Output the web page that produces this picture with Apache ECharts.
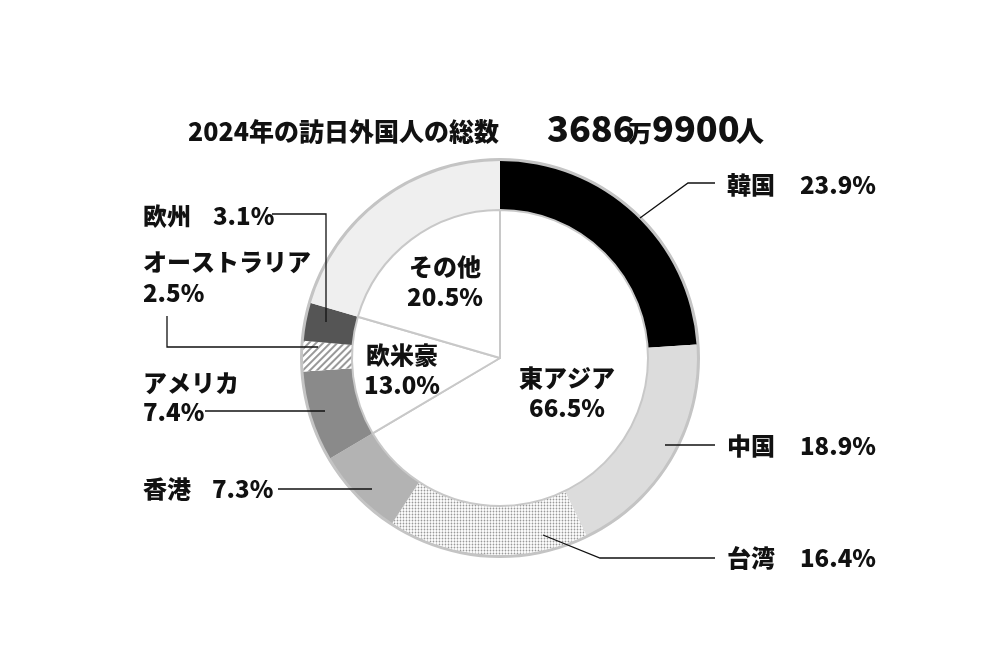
<!DOCTYPE html>
<html><head><meta charset="utf-8">
<script src="https://cdn.jsdelivr.net/npm/echarts@6/dist/echarts.min.js"></script>
<style>html,body{margin:0;background:#fff}#c{width:1008px;height:658px}</style>
</head><body><div id="c"></div>
<script>
const outerNames = ['韓国','中国','台湾','香港','アメリカ','オーストラリア','欧州','その他'];
const outerValues = [23.9,18.9,16.4,7.3,7.4,2.5,3.1,20.5];
const innerNames = ['東アジア','欧米豪','その他'];
const innerValues = [66.5,13.0,20.5];
const titleParts = ['2024年の訪日外国人の総数','3686','万','9900','人'];

const F = '"Noto Sans CJK JP", sans-serif';
const colors = ['#000','#dcdcdc','#fff','#b3b3b3','#8a8a8a','#fff','#555','#efefef'];
const decals = [null,null,
  {symbol:'circle',symbolSize:0.6,color:'#999',dashArrayX:[3,0],dashArrayY:[3,0],backgroundColor:'#fff'},
  null,null,
  {symbol:'rect',symbolSize:1,color:'#999',dashArrayX:[1,0],dashArrayY:[2,3],rotation:-Math.PI/4,backgroundColor:'#fff'},
  null,null];
const outerData = outerNames.map((n,i)=>({name:n,value:outerValues[i],itemStyle:{color:colors[i],decal:decals[i]||undefined}}));
const innerData = innerNames.map((n,i)=>({name:n,value:innerValues[i]}));

const C=[500,358];
const t = (text,x,y,size,align)=>({type:'text',z:100,x:x,y:y,style:{text:text,font:'900 '+size+'px '+F,fill:'#111',textAlign:align||'left',textVerticalAlign:'middle'}});
const line=(pts)=>({type:'polyline',z:100,shape:{points:pts},style:{stroke:'#111',lineWidth:1.3,fill:null}});
const pct=v=>v.toFixed(1)+'%';
const S=24;

const g=[
  t(titleParts[0],188,131,25), t(titleParts[1],547,128,36), t(titleParts[2],628,133,24), t(titleParts[3],652,128,36), t(titleParts[4],736,131,28),
  t(outerNames[0],727,185,S), t(pct(outerValues[0]),800,185,S), line([[640,218],[688,183],[715,183]]),
  t(outerNames[1],727,446,S), t(pct(outerValues[1]),800,446,S), line([[665,445],[715,445]]),
  t(outerNames[2],727,558,S), t(pct(outerValues[2]),800,558,S), line([[543,535],[600,558],[715,558]]),
  t(outerNames[3],143,489,S), t(pct(outerValues[3]),212,489,S), line([[278,489],[372,489]]),
  t(outerNames[4],143,383,S), t(pct(outerValues[4]),143,412,S), line([[205,411],[325,411]]),
  t(outerNames[5],143,262,S), t(pct(outerValues[5]),143,293,S), line([[167,316],[167,347],[318,347]]),
  t(outerNames[6],143,216,S), t(pct(outerValues[6]),213,216,S), line([[272,214],[326,214],[326,322]]),
  t(innerNames[2],445,267,S,'center'), t(pct(innerValues[2]),445,297,S,'center'),
  t(innerNames[1],402,355,S,'center'), t(pct(innerValues[1]),402,385,S,'center'),
  t(innerNames[0],567,378,S,'center'), t(pct(innerValues[0]),567,408,S,'center')
];

const chart=echarts.init(document.getElementById('c'));
chart.setOption({
  animation:false,
  series:[
    {type:'pie',center:C,radius:[196,200],silent:true,label:{show:false},data:[{value:1,itemStyle:{color:'#c4c4c4'}}]},
    {type:'pie',center:C,radius:[148,197],startAngle:90,clockwise:true,silent:true,label:{show:false},labelLine:{show:false},data:outerData,itemStyle:{borderWidth:0}},
    {type:'pie',center:C,radius:[0,148],startAngle:90,silent:true,label:{show:false},labelLine:{show:false},data:innerData,itemStyle:{color:'#fff',borderColor:'#c8c8c8',borderWidth:2}}
  ],
  graphic:g
});
</script></body></html>
